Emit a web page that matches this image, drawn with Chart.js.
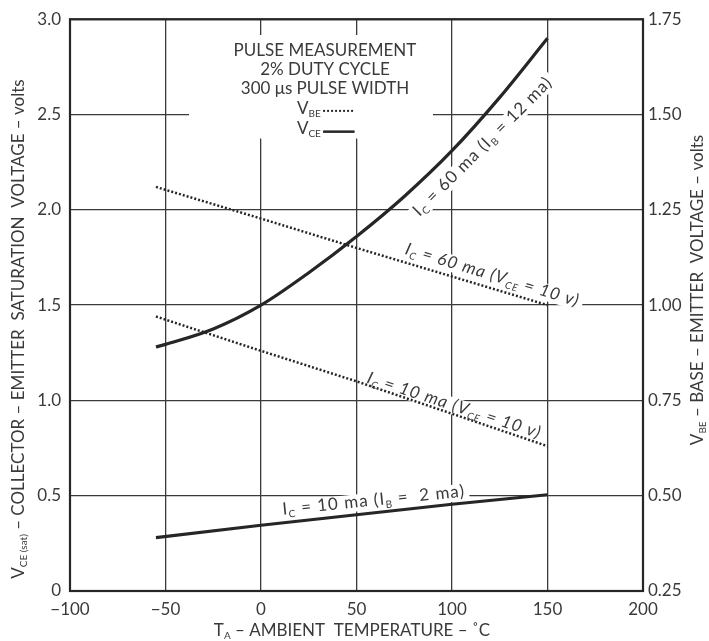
<!DOCTYPE html>
<html>
<head>
<meta charset="utf-8">
<script src="https://cdn.jsdelivr.net/npm/chart.js@4.4.1/dist/chart.umd.min.js"></script>
<style>
  body { margin: 0; background: #fff; }
</style>
</head>
<body>
<canvas id="chart" width="709" height="641"></canvas>
<script>
// values
const tempVce60 = [-55, -50, -25, 0, 25, 50, 75, 100, 125, 150];
const vce60 = [1.28, 1.294, 1.375, 1.50, 1.67, 1.86, 2.07, 2.31, 2.59, 2.90];
const tempVce10 = [-55, 0, 50, 100, 150];
const vce10 = [0.28, 0.345, 0.40, 0.455, 0.505];
const tempVbe = [-55, 0, 50, 100, 150];
const vbe60 = [1.31, 1.227, 1.15, 1.075, 1.00];
const vbe10 = [0.97, 0.88, 0.80, 0.715, 0.63];

const xTicks = [-100, -50, 0, 50, 100, 150, 200];
const vceTicks = [0, 0.5, 1.0, 1.5, 2.0, 2.5, 3.0];
const vbeTicks = [0.25, 0.5, 0.75, 1.0, 1.25, 1.5, 1.75];

const legendLines = ['PULSE MEASUREMENT', '2% DUTY CYCLE', '300 \u03bcs PULSE WIDTH'];

const FONT = 'Lato, "Open Sans", sans-serif';
const INK = '#262626';
const TEXT = '#3a3a3a';

// curve labels, anchored at the start of the baseline, in data units
const curveLabels = [
  { text: 'I_{C} = 60 ma (I_{B} = 12 ma)', x: 83, y: 1.962, axis: 'y', angle: -45, italic: false },
  { text: 'I_{C} = 60 ma (V_{CE} = 10 v)', x: 75, y: 1.135, axis: 'y2', angle: 17, italic: true },
  { text: 'I_{C} = 10 ma (V_{CE} = 10 v)', x: 55, y: 0.797, axis: 'y2', angle: 18, italic: true },
  { text: 'I_{C} = 10 ma (I_{B} =  2 ma)', x: 11.5, y: 0.40, axis: 'y', angle: -5.7, italic: false }
];

function toPoints(xs, ys) {
  return xs.map((x, i) => ({ x: x, y: ys[i] }));
}

function splitRuns(str) {
  const out = [];
  const re = /_\{([^}]*)\}/g;
  let last = 0, m;
  while ((m = re.exec(str))) {
    if (m.index > last) out.push({ t: str.slice(last, m.index), sub: false });
    out.push({ t: m[1], sub: true });
    last = re.lastIndex;
  }
  if (last < str.length) out.push({ t: str.slice(last), sub: false });
  return out;
}

function fontOf(size, italic) {
  return (italic ? 'italic ' : '') + size + 'px ' + FONT;
}

function measureRich(ctx, str, size, italic) {
  const parts = splitRuns(str);
  let w = 0;
  parts.forEach(p => {
    ctx.font = fontOf(p.sub ? Math.round(size * 0.58) : size, italic);
    p.w = ctx.measureText(p.t).width;
    w += p.w;
  });
  return { parts: parts, w: w };
}

function drawRich(ctx, str, x, y, size, align, italic) {
  const m = measureRich(ctx, str, size, italic);
  let cx = align === 'center' ? x - m.w / 2 : (align === 'right' ? x - m.w : x);
  ctx.textAlign = 'left';
  ctx.textBaseline = 'alphabetic';
  m.parts.forEach(p => {
    ctx.font = fontOf(p.sub ? Math.round(size * 0.58) : size, italic);
    ctx.fillText(p.t, cx, p.sub ? y + size * 0.2 : y);
    cx += p.w;
  });
  return m.w;
}

const annotations = {
  id: 'annotations',
  beforeDatasetsDraw(chart) {
    const ctx = chart.ctx;
    const sx = chart.scales.x, sy = chart.scales.y;
    const area = chart.chartArea;
    ctx.save();
    ctx.fillStyle = '#fff';
    // the legend block interrupts the grid
    const bx0 = sx.getPixelForValue(-37.7), bx1 = sx.getPixelForValue(90);
    const by0 = sy.getPixelForValue(2.917), by1 = sy.getPixelForValue(2.374);
    ctx.fillRect(bx0, by0, bx1 - bx0, by1 - by0);
    // the curve labels too
    ctx.letterSpacing = '1px';
    curveLabels.forEach(l => {
      const px = sx.getPixelForValue(l.x);
      const py = chart.scales[l.axis].getPixelForValue(l.y);
      const m = measureRich(ctx, l.text, 17, l.italic);
      ctx.save();
      ctx.translate(px, py);
      ctx.rotate(l.angle * Math.PI / 180);
      ctx.fillStyle = '#fff';
      ctx.fillRect(-4, -13, m.w + 8, 17);
      ctx.restore();
    });
    ctx.letterSpacing = '0px';
    // frame
    ctx.strokeStyle = INK;
    ctx.lineWidth = 2.2;
    ctx.strokeRect(area.left, area.top, area.right - area.left, area.bottom - area.top);
    ctx.restore();
  },
  afterDatasetsDraw(chart) {
    const ctx = chart.ctx;
    const sx = chart.scales.x, sy = chart.scales.y;
    ctx.save();
    ctx.fillStyle = TEXT;
    const cx = sx.getPixelForValue(33.5);
    const baselines = [2.809, 2.705, 2.607];
    legendLines.forEach((t, i) => {
      drawRich(ctx, t, cx, sy.getPixelForValue(baselines[i]), 17, 'center', false);
    });
    const vx = sx.getPixelForValue(18.8);
    drawRich(ctx, 'V_{BE}', vx, sy.getPixelForValue(2.503), 17, 'left', false);
    drawRich(ctx, 'V_{CE}', vx, sy.getPixelForValue(2.40), 17, 'left', false);
    ctx.strokeStyle = INK;
    ctx.lineWidth = 2;
    ctx.setLineDash([2, 2]);
    ctx.beginPath();
    ctx.moveTo(sx.getPixelForValue(32.5), sy.getPixelForValue(2.519));
    ctx.lineTo(sx.getPixelForValue(48.2), sy.getPixelForValue(2.519));
    ctx.stroke();
    ctx.setLineDash([]);
    ctx.lineWidth = 2.5;
    ctx.beginPath();
    ctx.moveTo(sx.getPixelForValue(32.5), sy.getPixelForValue(2.41));
    ctx.lineTo(sx.getPixelForValue(49), sy.getPixelForValue(2.41));
    ctx.stroke();

    ctx.letterSpacing = '1px';
    curveLabels.forEach(l => {
      const px = sx.getPixelForValue(l.x);
      const py = chart.scales[l.axis].getPixelForValue(l.y);
      ctx.save();
      ctx.translate(px, py);
      ctx.rotate(l.angle * Math.PI / 180);
      ctx.fillStyle = TEXT;
      drawRich(ctx, l.text, 0, 0, 17, 'left', l.italic);
      ctx.restore();
    });
    ctx.letterSpacing = '0px';
    ctx.restore();
  },
  afterDraw(chart) {
    const ctx = chart.ctx;
    ctx.save();
    ctx.fillStyle = TEXT;
    // axis titles with subscripts
    drawRich(ctx, 'T_{A} \u2013 AMBIENT  TEMPERATURE \u2013 \u02daC', 352, 636, 17, 'center', false);
    ctx.save();
    ctx.translate(24, 329);
    ctx.rotate(-Math.PI / 2);
    drawRich(ctx, 'V_{CE (sat)} \u2013 COLLECTOR \u2013 EMITTER  SATURATION  VOLTAGE \u2013 volts', 0, 0, 17, 'center', false);
    ctx.restore();
    ctx.save();
    ctx.translate(703, 290);
    ctx.rotate(-Math.PI / 2);
    drawRich(ctx, 'V_{BE} \u2013 BASE \u2013 EMITTER  VOLTAGE \u2013 volts', 0, 0, 17, 'center', false);
    ctx.restore();
    ctx.restore();
  }
};

const solid = { borderColor: INK, borderWidth: 3.2, pointRadius: 0, showLine: true, fill: false };
const dotted = { borderColor: INK, borderWidth: 2.5, borderDash: [2, 2], pointRadius: 0, showLine: true, fill: false };

new Chart(document.getElementById('chart'), {
  type: 'scatter',
  data: {
    datasets: [
      Object.assign({ label: 'VCE Ic=60ma', data: toPoints(tempVce60, vce60), yAxisID: 'y', cubicInterpolationMode: 'monotone' }, solid),
      Object.assign({ label: 'VCE Ic=10ma', data: toPoints(tempVce10, vce10), yAxisID: 'y' }, solid),
      Object.assign({ label: 'VBE Ic=60ma', data: toPoints(tempVbe, vbe60), yAxisID: 'y2' }, dotted),
      Object.assign({ label: 'VBE Ic=10ma', data: toPoints(tempVbe, vbe10), yAxisID: 'y2' }, dotted)
    ]
  },
  options: {
    responsive: false,
    animation: false,
    devicePixelRatio: 1,
    layout: { padding: { top: 11, left: 0, right: 0, bottom: 0 } },
    plugins: { legend: { display: false }, tooltip: { enabled: false } },
    scales: {
      x: {
        type: 'linear', min: -100, max: 200,
        afterBuildTicks: s => { s.ticks = xTicks.map(v => ({ value: v })); },
        afterFit: s => { s.height = 50; },
        grid: { color: '#3a3a3a', lineWidth: 1.3, drawTicks: false },
        border: { display: false },
        ticks: {
          padding: 8, color: TEXT, font: { family: FONT, size: 17 },
          callback: v => v < 0 ? '\u2212' + Math.abs(v) : String(v)
        }
      },
      y: {
        type: 'linear', position: 'left', min: 0, max: 3,
        afterBuildTicks: s => { s.ticks = vceTicks.map(v => ({ value: v })); },
        afterFit: s => { s.width = 70; },
        grid: { color: '#3a3a3a', lineWidth: 1.3, drawTicks: false },
        border: { display: false },
        ticks: {
          padding: 9, color: TEXT, font: { family: FONT, size: 17 },
          callback: v => v === 0 ? '0' : v.toFixed(1)
        }
      },
      y2: {
        type: 'linear', position: 'right', min: 0.25, max: 1.75,
        afterBuildTicks: s => { s.ticks = vbeTicks.map(v => ({ value: v })); },
        afterFit: s => { s.width = 66; },
        grid: { display: false, drawTicks: false },
        border: { display: false },
        ticks: {
          padding: 5, color: TEXT, font: { family: FONT, size: 17 },
          callback: v => v.toFixed(2)
        }
      }
    }
  },
  plugins: [annotations]
});
</script>
</body>
</html>
